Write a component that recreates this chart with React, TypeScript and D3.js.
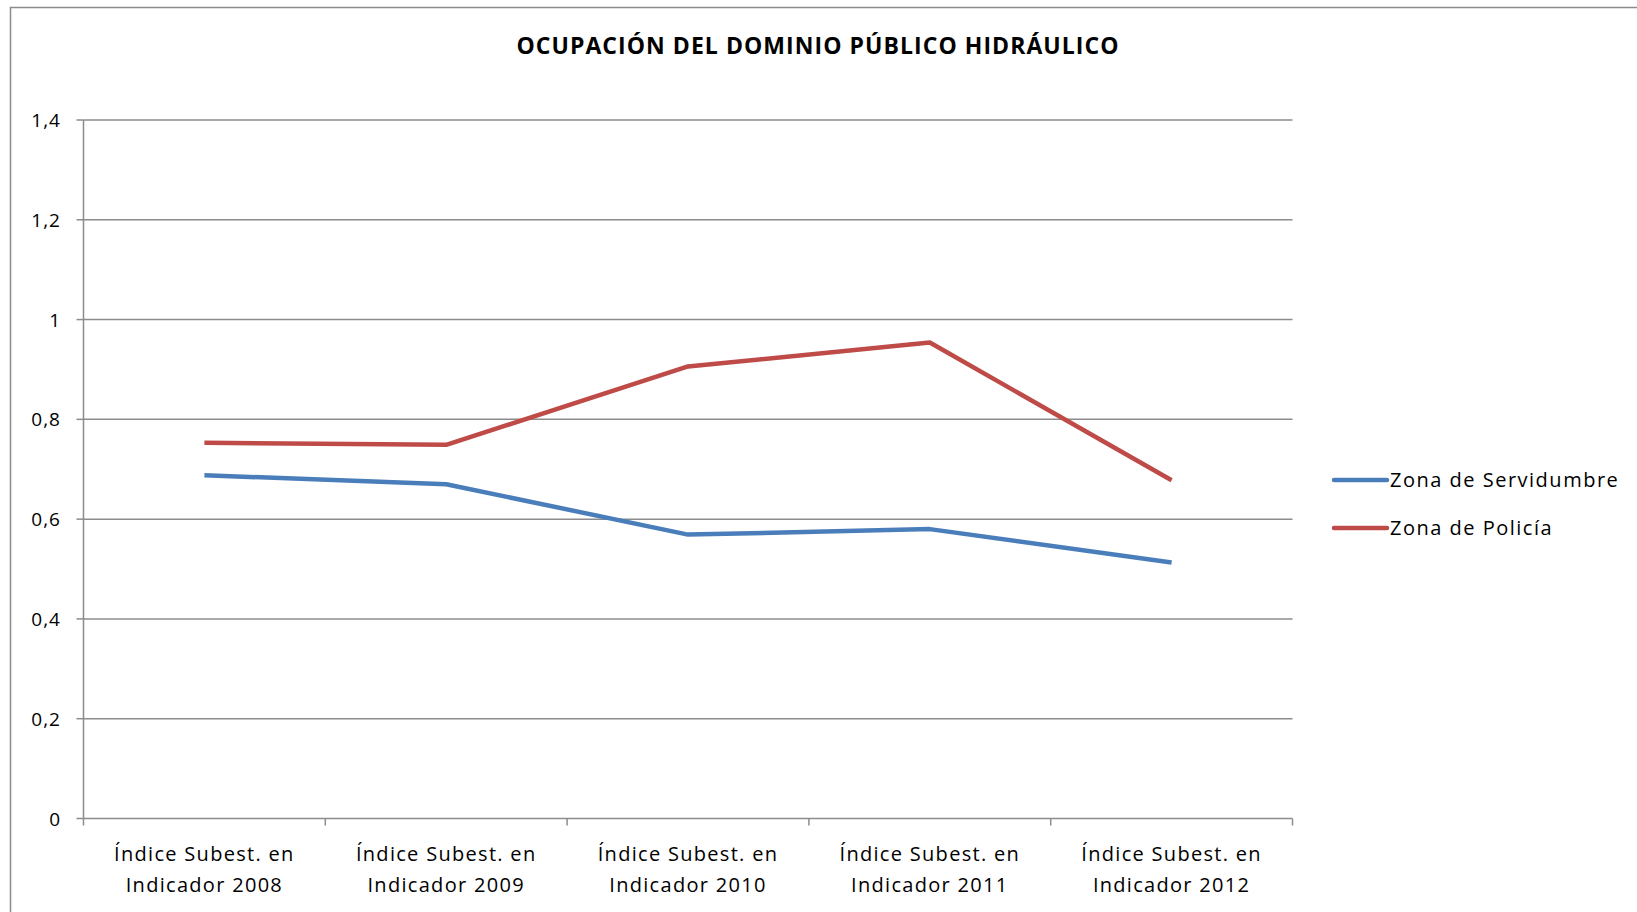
import React from "react";
import * as d3 from "d3";

const categories = [
  ["Índice Subest. en", "Indicador 2008"],
  ["Índice Subest. en", "Indicador 2009"],
  ["Índice Subest. en", "Indicador 2010"],
  ["Índice Subest. en", "Indicador 2011"],
  ["Índice Subest. en", "Indicador 2012"],
];
const servidumbre = [0.688, 0.67, 0.569, 0.58, 0.513];
const policia = [0.753, 0.749, 0.906, 0.954, 0.678];
const yTicks = [0, 0.2, 0.4, 0.6, 0.8, 1, 1.2, 1.4];
const seriesNames = ["Zona de Servidumbre", "Zona de Policía"];
const seriesColors = ["#4a7ebb", "#be4b48"];

const W = 1637;
const H = 912;
const FONT = "'Open Sans', sans-serif";

export default function App() {
  const left = 83.5, right = 1292.5, top = 120, bottom = 818.5;
  const x = d3.scaleBand<number>().domain(d3.range(categories.length)).range([left, right]);
  const y = d3.scaleLinear().domain([0, 1.4]).range([bottom, top]);
  const fmt = (v: number) => (v === 0 || v === 1 ? String(v) : v.toFixed(1).replace(".", ","));
  const line = d3
    .line<number>()
    .x((_, i) => (x(i) as number) + x.bandwidth() / 2)
    .y((d) => y(d));
  const series = [servidumbre, policia];
  const boundaries = d3.range(categories.length + 1).map((i) => left + i * x.step());

  return (
    <svg
      width={W}
      height={H}
      style={{ position: "absolute", left: 0, top: 0, background: "#fff" }}
      fontFamily={FONT}
    >
      <rect x={10.5} y={7.5} width={W + 20} height={H + 20} fill="#fff" stroke="#8c8c8c" strokeWidth={1.5} />
      <text x={818} y={54} textAnchor="middle" fontSize={23} fontWeight="bold" fill="#000" letterSpacing={1.05}>
        OCUPACIÓN DEL DOMINIO PÚBLICO HIDRÁULICO
      </text>
      {yTicks.map((t) => (
        <g key={t}>
          <line x1={left} x2={right} y1={y(t)} y2={y(t)} stroke="#8c8c8c" strokeWidth={1.5} />
          <line x1={left - 7} x2={left} y1={y(t)} y2={y(t)} stroke="#8c8c8c" strokeWidth={1.5} />
          <text x={61} y={y(t) + 7} textAnchor="end" fontSize={19} fill="#000" letterSpacing={1}>
            {fmt(t)}
          </text>
        </g>
      ))}
      <line x1={left} x2={left} y1={top} y2={bottom} stroke="#8c8c8c" strokeWidth={1.5} />
      {boundaries.map((bx, i) => (
        <line key={i} x1={bx} x2={bx} y1={bottom} y2={bottom + 7} stroke="#8c8c8c" strokeWidth={1.5} />
      ))}
      {categories.map((c, i) => (
        <text key={i} textAnchor="middle" fontSize={20} fill="#000" letterSpacing={1.3}>
          <tspan x={(x(i) as number) + x.bandwidth() / 2} y={861}>{c[0]}</tspan>
          <tspan x={(x(i) as number) + x.bandwidth() / 2} y={892}>{c[1]}</tspan>
        </text>
      ))}
      {series.map((s, k) => (
        <path key={k} d={line(s) || ""} fill="none" stroke={seriesColors[k]} strokeWidth={4.5} strokeLinejoin="round" />
      ))}
      {seriesNames.map((n, k) => {
        const ly = 480 + k * 48;
        return (
          <g key={n}>
            <line x1={1334} x2={1387} y1={ly} y2={ly} stroke={seriesColors[k]} strokeWidth={4.5} strokeLinecap="round" />
            <text x={1390} y={ly + 7} fontSize={20} fill="#000" letterSpacing={1.5}>{n}</text>
          </g>
        );
      })}
    </svg>
  );
}
